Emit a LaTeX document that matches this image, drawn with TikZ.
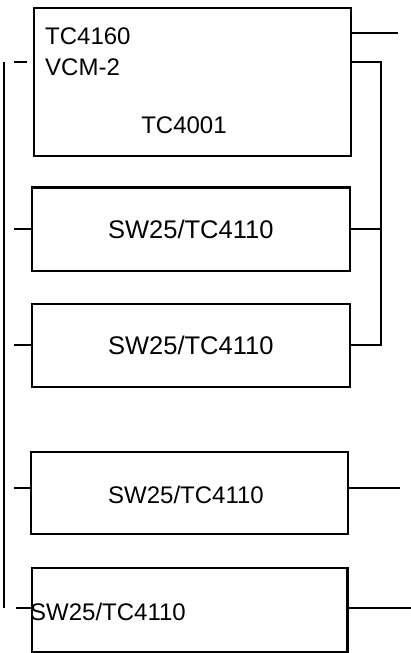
\documentclass[tikz,border=0pt]{standalone}
\usepackage{fontspec}
\setmainfont{Liberation Sans}
\begin{document}
\begin{tikzpicture}[x=1pt,y=-1pt,
  box/.style={draw,line width=1.6pt,rectangle,inner sep=0pt,anchor=north west},
  lbl/.style={inner sep=0pt,font=\fontsize{24}{28}\selectfont},
  biglbl/.style={inner sep=0pt,font=\fontsize{25.5}{30}\selectfont},
  wire/.style={line width=1.4pt}]
\useasboundingbox (0,0) rectangle (411,653);
% boxes
\node[box,minimum width=317pt,minimum height=148pt] (b1) at (33,7) {};
\node[box,minimum width=318pt,minimum height=83pt] (b2) at (31,187) {};
\node[box,minimum width=318pt,minimum height=83pt] (b3) at (31,303) {};
\node[box,minimum width=317pt,minimum height=82pt] (b4) at (30,451) {};
\node[box,minimum width=315pt,minimum height=84pt] (b5) at (31,567) {};
% thicker edges
\draw[line width=2.6pt] (b2.north west) -- (b2.north east);
\draw[line width=2.6pt] (b5.north east) -- (b5.south east);
% texts
\node[lbl,anchor=west] (t1) at (45,36) {TC4160};
\node[lbl,anchor=west] (t2) at (45,67) {VCM-2};
\node[lbl] (t3) at (184,125) {TC4001};
\node[biglbl] (t4) at (b2.center) {SW25/TC4110};
\node[biglbl] (t5) at (b3.center) {SW25/TC4110};
\node[lbl] (t6) at (186,495) {SW25/TC4110};
\node[lbl,anchor=west] (t7) at (30,612) {SW25/TC4110};
% coordinates
\coordinate (r1) at (398,33);
\coordinate (rb) at (381,62);
\coordinate (r4) at (400,488);
\coordinate (r5) at (411,608);
\coordinate (bt) at (4,62);
\coordinate (bb) at (4,608);
\coordinate (k1a) at (14,62);
\coordinate (k1b) at (27,62);
\coordinate (k2) at (14,229);
\coordinate (k3) at (14,345);
\coordinate (k4) at (14,488);
\coordinate (k5) at (16,608);
% right wiring
\draw[wire] (b1.north east |- r1) -- (r1);
\draw[wire] (b1.north east |- rb) -- (rb) |- (b3.north east |- k3);
\draw[wire] (b2.north east |- k2) -- (rb |- k2);
\draw[wire] (b4.north east |- r4) -- (r4);
\draw[wire] (b5.north east |- r5) -- (r5);
% left bus and ticks
\draw[wire] (bt) -- (bb);
\draw[wire] (k1a) -- (k1b);
\draw[wire] (k2) -- (b2.north west |- k2);
\draw[wire] (k3) -- (b3.north west |- k3);
\draw[wire] (k4) -- (b4.north west |- k4);
\draw[wire] (k5) -- (b5.north west |- k5);
\end{tikzpicture}
\end{document}
